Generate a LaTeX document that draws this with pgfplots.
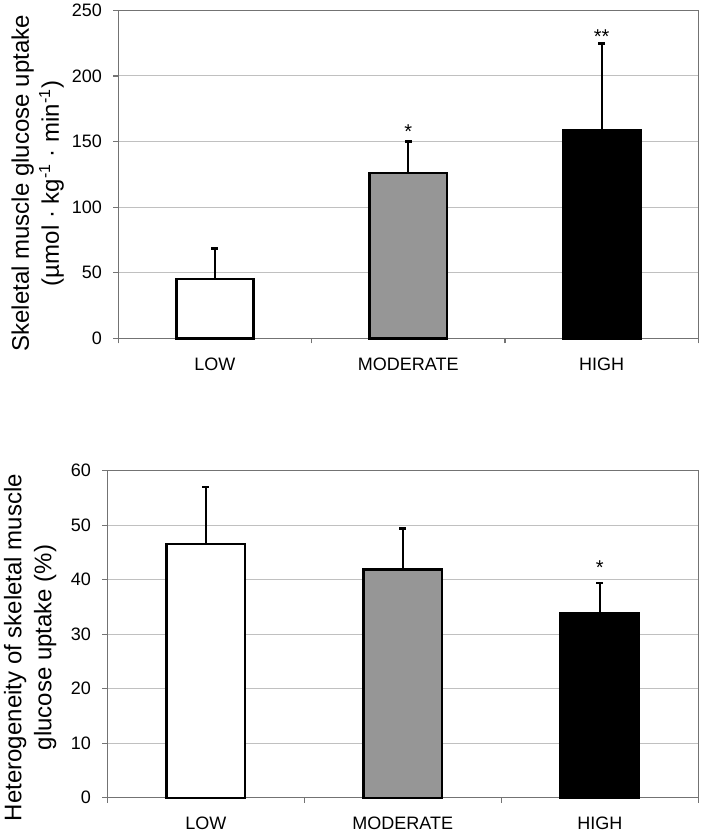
\documentclass[border=0pt]{standalone}
\usepackage{fontspec}
\setmainfont{Liberation Sans}
\usepackage{pgfplots}
\pgfplotsset{compat=1.18}
\definecolor{barGray}{RGB}{150,150,150}
\definecolor{gridGray}{RGB}{192,192,192}
\definecolor{frameGray}{RGB}{115,115,115}
\pgfplotsset{mystyle/.style={
  scale only axis,
  xmin=-0.5, xmax=2.5, ymin=0,
  axis line style={frameGray, line width=0.6pt},
  xtick={-0.5,0.5,1.5,2.5}, xticklabels={},
  extra x ticks={0,1,2},
  extra x tick labels={LOW,MODERATE,HIGH},
  extra x tick style={major tick length=0pt, grid=none},
  xtick pos=left, ytick pos=left,
  tick align=outside,
  major tick length=2.5pt,
  tick style={frameGray, line width=0.6pt},
  ymajorgrids, grid style={gridGray, line width=0.5pt},
  tick label style={font=\fontsize{9}{10}\selectfont},
  /pgf/number format/assume math mode=true,
  yticklabel style={anchor=east, inner sep=0pt, xshift=-5.5pt},
  xticklabel style={anchor=north, inner sep=0pt, yshift=-9.5pt},
  ylabel style={font=\fontsize{12}{15}\selectfont, align=center, inner sep=0pt, anchor=north},
  clip=false,
}}
\pgfplotsset{barstyle/.style={ybar, bar width=0.4, bar shift=0pt, draw=black, line width=1.2pt,
  error bars/y dir=plus, error bars/y explicit,
  error bars/error mark=|,
  error bars/error bar style={line width=1pt, black},
  error bars/error mark options={black, line width=1.4pt, mark size=1.75pt}}}
\begin{document}
\begin{tikzpicture}
\useasboundingbox (0,0) rectangle (352pt,-417pt);
\begin{axis}[mystyle, at={(59.15pt,-169.15pt)}, anchor=south west,
  width=290pt, height=164pt, ymax=250, ytick={0,50,100,150,200,250},
  ylabel={Skeletal muscle glucose uptake\\(µmol · kg\textsuperscript{-1} · min\textsuperscript{-1})},
  ylabel style={at={(axis description cs:-0.185,0.4726)}}]
\addplot[barstyle, fill=white] coordinates {(0,45.4) +- (0,22.8)};
\addplot[barstyle, fill=barGray] coordinates {(1,125.8) +- (0,24.4)};
\addplot[barstyle, fill=black] coordinates {(2,158.4) +- (0,66.2)};
\node[font=\fontsize{10}{11}\selectfont, anchor=base] at (axis cs:1,152) {*};
\node[font=\fontsize{10}{11}\selectfont, anchor=base] at (axis cs:2,225) {**};
\end{axis}
\begin{axis}[mystyle, at={(53.65pt,-398.85pt)}, anchor=south west,
  width=295.5pt, height=163.5pt, ymax=60, ytick={0,10,20,30,40,50,60},
  ylabel={Heterogeneity of skeletal muscle\\glucose uptake (\%)},
  ylabel style={at={(axis description cs:-0.1756,0.459)}}]
\addplot[barstyle, fill=white] coordinates {(0,46.5) +- (0,10.5)};
\addplot[barstyle, fill=barGray] coordinates {(1,41.9) +- (0,7.5)};
\addplot[barstyle, fill=black] coordinates {(2,33.9) +- (0,5.5)};
\node[font=\fontsize{10}{11}\selectfont, anchor=base] at (axis cs:2,40.9) {*};
\end{axis}
\end{tikzpicture}
\end{document}
